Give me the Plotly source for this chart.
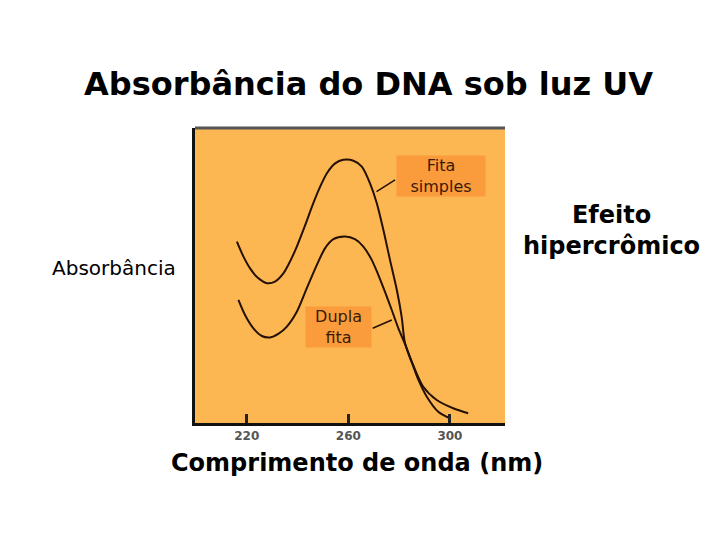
import plotly.graph_objects as go

# comprimento de onda (nm) e absorbância (unidades arbitrárias)
lambda_simples = [216.1, 218.7, 221.3, 223.9, 227.9, 231.1, 234.4, 237.0, 239.7, 243.0,
                  246.2, 248.9, 251.5, 254.8, 258.0, 262.0, 265.3, 268.5, 271.2, 273.8,
                  276.4, 279.1, 281.0, 282.3, 285.6, 287.6, 290.9, 295.4, 300.0]
abs_simples = [0.615, 0.564, 0.524, 0.496, 0.474, 0.479, 0.507, 0.547, 0.598, 0.671,
               0.745, 0.801, 0.846, 0.880, 0.892, 0.889, 0.869, 0.813, 0.745, 0.654,
               0.553, 0.451, 0.360, 0.271, 0.191, 0.146, 0.089, 0.038, 0.016]

lambda_dupla = [216.7, 219.3, 222.6, 225.9, 229.2, 232.4, 235.7, 239.7, 243.6, 247.6,
                250.8, 254.1, 258.7, 262.6, 265.9, 269.2, 271.8, 274.4, 277.1, 279.7,
                282.3, 285.6, 289.5, 294.8, 301.3, 307.2]
abs_dupla = [0.417, 0.366, 0.321, 0.295, 0.290, 0.302, 0.326, 0.377, 0.456, 0.536,
             0.592, 0.623, 0.632, 0.623, 0.598, 0.553, 0.502, 0.445, 0.383, 0.321,
             0.268, 0.195, 0.123, 0.078, 0.050, 0.033]

tick_vals = [220, 260, 300]
tick_text = ['220', '260', '300']

cores = {
    'fundo': '#FCB652',
    'caixa': '#FA9C3C',
    'linha': '#241005',
    'texto': '#000000',
}

W, H = 720, 540
OFF = 8  # margem padrão do <body> na página


def px(x):
    return (x - OFF) / W


def py(y):
    return 1 - (y - OFF) / H


fig = go.Figure()
for lx, ly in [(lambda_simples, abs_simples), (lambda_dupla, abs_dupla)]:
    fig.add_trace(go.Scatter(
        x=lx, y=ly, mode='lines',
        line=dict(color=cores['linha'], width=2, shape='spline', smoothing=0.8),
        hoverinfo='skip', showlegend=False
    ))

# caixas de legenda dentro do gráfico
fonte_caixa = dict(family='DejaVu Sans', size=16, color='#3a1a05')
fig.add_annotation(x=296.5, y=0.837, xref='x', yref='y', text='Fita<br>simples',
                   showarrow=False, width=86, height=38, bgcolor=cores['caixa'],
                   xanchor='center', yanchor='middle', font=fonte_caixa)
fig.add_annotation(x=256.3, y=0.327, xref='x', yref='y', text='Dupla<br>fita',
                   showarrow=False, width=63, height=38, bgcolor=cores['caixa'],
                   xanchor='center', yanchor='middle', font=fonte_caixa)

# traços que ligam as caixas às curvas
fig.add_shape(type='line', x0=271.1, y0=0.784, x1=278.4, y1=0.824, xref='x', yref='y',
              line=dict(color=cores['linha'], width=1.5))
fig.add_shape(type='line', x0=269.6, y0=0.321, x1=277.1, y1=0.349, xref='x', yref='y',
              line=dict(color=cores['linha'], width=1.5))

# borda superior cinza
fig.add_shape(type='line', x0=0, x1=1, y0=1, y1=1, xref='x domain', yref='y domain',
              line=dict(color='#555555', width=3))

textos = [
    ('Absorbância do DNA sob luz UV', 368, 84, 32, 'bold'),
    ('Absorbância', 114, 268, 20, 'normal'),
    ('Efeito<br>hipercrômico', 611, 230, 24, 'bold'),
    ('Comprimento de onda (nm)', 357, 463, 24, 'bold'),
]
for txt, x, y, size, weight in textos:
    fig.add_annotation(x=px(x), y=py(y), xref='paper', yref='paper', text=txt,
                       showarrow=False, xanchor='center', yanchor='middle',
                       font=dict(family='DejaVu Sans', size=size, color=cores['texto'],
                                 weight=weight))

fig.update_layout(
    width=W, height=H,
    margin=dict(l=0, r=0, t=0, b=0),
    paper_bgcolor='white',
    plot_bgcolor=cores['fundo'],
    xaxis=dict(domain=[px(195), px(505)], range=[199.6, 321.7],
               showgrid=False, zeroline=False, showline=True, linecolor='#111111', linewidth=3,
               ticks='inside', ticklen=9, tickwidth=3, tickcolor='#222222',
               tickvals=tick_vals, ticktext=tick_text,
               tickfont=dict(family='DejaVu Sans', size=12, color='#555555', weight='bold')),
    yaxis=dict(domain=[py(423), py(128)], range=[0, 1],
               showgrid=False, zeroline=False, showline=True, linecolor='#111111', linewidth=3,
               showticklabels=False, ticks=''),
)

fig.write_html("out.html")
